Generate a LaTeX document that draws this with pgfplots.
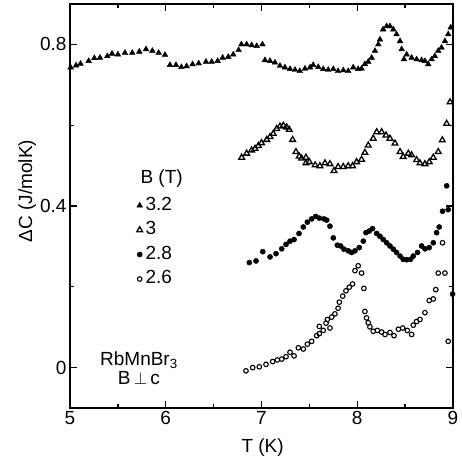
\documentclass[border=0pt]{standalone}
\usepackage{pgfplots}
\usepackage{pgfplotstable}
\pgfplotsset{compat=1.18}
\usepackage{fontspec}
\setmainfont{Liberation Sans}

\pgfplotstableread{
x y
5.007 0.743
5.063 0.748
5.110 0.752
5.195 0.759
5.254 0.766
5.313 0.767
5.390 0.771
5.439 0.777
5.500 0.775
5.574 0.779
5.650 0.779
5.724 0.782
5.794 0.788
5.860 0.784
5.926 0.779
5.992 0.774
6.044 0.749
6.107 0.749
6.163 0.744
6.218 0.746
6.280 0.751
6.344 0.753
6.420 0.757
6.480 0.757
6.542 0.759
6.594 0.767
6.653 0.769
6.705 0.775
6.761 0.786
6.790 0.800
6.845 0.800
6.897 0.798
6.950 0.796
7.010 0.800
7.036 0.761
7.089 0.759
7.141 0.755
7.193 0.747
7.245 0.743
7.298 0.739
7.350 0.737
7.400 0.734
7.454 0.740
7.507 0.743
7.540 0.749
7.593 0.744
7.645 0.739
7.697 0.737
7.750 0.739
7.800 0.734
7.854 0.736
7.906 0.734
7.958 0.743
8.010 0.739
8.045 0.740
8.080 0.751
8.115 0.757
8.150 0.767
8.185 0.784
8.220 0.800
8.237 0.812
8.270 0.837
8.307 0.845
8.342 0.845
8.377 0.837
8.410 0.825
8.447 0.808
8.464 0.788
8.488 0.763
8.516 0.775
8.568 0.767
8.620 0.763
8.672 0.761
8.707 0.759
8.742 0.751
8.777 0.763
8.810 0.771
8.846 0.784
8.880 0.792
8.916 0.808
8.950 0.825
8.976 0.842
}\dataA

\pgfplotstableread{
x y
6.793 0.520
6.845 0.530
6.897 0.538
6.932 0.542
6.967 0.549
7.000 0.556
7.054 0.564
7.089 0.571
7.123 0.579
7.158 0.591
7.193 0.597
7.228 0.599
7.262 0.595
7.290 0.589
7.325 0.564
7.360 0.534
7.394 0.523
7.419 0.518
7.464 0.520
7.464 0.506
7.500 0.509
7.560 0.501
7.610 0.499
7.663 0.506
7.715 0.504
7.757 0.487
7.800 0.497
7.854 0.497
7.906 0.499
7.951 0.499
7.993 0.509
8.045 0.515
8.080 0.532
8.115 0.550
8.167 0.567
8.203 0.583
8.255 0.583
8.300 0.575
8.342 0.567
8.394 0.555
8.447 0.534
8.480 0.522
8.533 0.530
8.568 0.526
8.620 0.514
8.655 0.506
8.707 0.504
8.752 0.509
8.794 0.520
8.846 0.534
8.888 0.563
8.934 0.604
8.969 0.657
}\dataB

\pgfplotstableread{
x y
6.873 0.260
6.943 0.264
7.013 0.287
7.089 0.274
7.152 0.282
7.211 0.294
7.256 0.305
7.298 0.313
7.340 0.317
7.392 0.332
7.437 0.348
7.479 0.360
7.524 0.368
7.566 0.374
7.604 0.370
7.653 0.368
7.681 0.365
7.715 0.350
7.750 0.321
7.792 0.303
7.827 0.301
7.862 0.293
7.906 0.289
7.941 0.285
7.976 0.289
8.021 0.297
8.063 0.313
8.091 0.334
8.125 0.338
8.160 0.344
8.203 0.332
8.237 0.325
8.272 0.317
8.307 0.309
8.342 0.301
8.377 0.293
8.410 0.285
8.447 0.276
8.480 0.268
8.516 0.267
8.557 0.268
8.585 0.276
8.630 0.285
8.672 0.301
8.707 0.294
8.752 0.297
8.794 0.309
8.829 0.334
8.856 0.348
8.891 0.387
8.934 0.450
8.950 0.391
8.996 0.182
}\dataC

\pgfplotstableread{
x y
6.838 -0.008
6.908 0.000
6.977 0.002
7.047 0.008
7.117 0.015
7.165 0.019
7.211 0.021
7.256 0.027
7.298 0.038
7.340 0.029
7.385 0.049
7.437 0.046
7.479 0.058
7.524 0.065
7.576 0.079
7.604 0.084
7.604 0.102
7.645 0.092
7.674 0.110
7.715 0.098
7.688 0.119
7.733 0.125
7.767 0.133
7.800 0.147
7.813 0.162
7.848 0.177
7.882 0.190
7.917 0.199
7.951 0.207
7.976 0.240
8.010 0.252
8.045 0.234
8.069 0.196
8.080 0.139
8.097 0.123
8.115 0.111
8.132 0.101
8.167 0.090
8.210 0.092
8.255 0.088
8.290 0.082
8.342 0.087
8.384 0.079
8.430 0.095
8.475 0.098
8.523 0.092
8.568 0.082
8.585 0.105
8.620 0.114
8.655 0.119
8.707 0.136
8.752 0.166
8.794 0.170
8.820 0.193
8.846 0.234
8.891 0.309
8.916 0.234
8.950 0.065
}\dataD

\begin{document}
\begin{tikzpicture}
\begin{axis}[
  scale only axis, width=383pt, height=404pt,
  xmin=5, xmax=9, ymin=-0.1, ymax=0.9,
  xtick={5,6,7,8,9}, minor xtick={5.5,6.5,7.5,8.5},
  ytick={0,0.4,0.8}, yticklabels={0,0.4,0.8}, minor ytick={0.2,0.6},
  tick align=inside, major tick length=7pt, minor tick length=4pt,
  every tick/.style={black, line width=1.3pt},
  axis line style={line width=1.8pt},
  font=\fontsize{19}{22}\selectfont,
  /pgf/number format/assume math mode=true,
  xlabel={T (K)}, ylabel={ΔC (J/molK)},
  xlabel style={at={(axis description cs:0.503,-0.099)}, anchor=center},
  ylabel style={at={(axis description cs:-0.112,0.537)}, anchor=center},
  legend style={at={(axis description cs:0.174,0.532)}, anchor=north west, draw=none, fill=none,
    font=\fontsize{19}{22}\selectfont, row sep=0pt, inner sep=0pt,
    nodes={text height=14pt, text depth=4.5pt, inner sep=3pt}},
  legend cell align=left,
  legend image code/.code={\draw[#1] plot coordinates {(0.12cm,0cm)};},
]
\addplot[only marks, mark=triangle*, mark size=3.3pt, black] table {\dataA};
\addlegendentry{3.2}
\addplot[only marks, mark=triangle, mark size=3.3pt, black, mark options={line width=1.3pt, fill=white}] table {\dataB};
\addlegendentry{3}
\addplot[only marks, mark=*, mark size=2.6pt, black] table {\dataC};
\addlegendentry{2.8}
\addplot[only marks, mark=o, mark size=2.3pt, black, mark options={line width=1.1pt}] table {\dataD};
\addlegendentry{2.6}
\node[anchor=base west] at (axis cs:5.70,0.455) {B (T)};
\node[anchor=base] at (axis cs:5.72,0.006) {RbMnBr\textsubscript{3}};
\node[anchor=base] at (axis cs:5.72,-0.043) {B\,$\perp$\,c};
\coordinate (bl) at (rel axis cs:0,0);
\coordinate (tr) at (rel axis cs:1,1);
\end{axis}
\pgfresetboundingbox
\path[use as bounding box] ([shift={(-70pt,-56pt)}]bl) rectangle ([shift={(9pt,4pt)}]tr);
\end{tikzpicture}
\end{document}
